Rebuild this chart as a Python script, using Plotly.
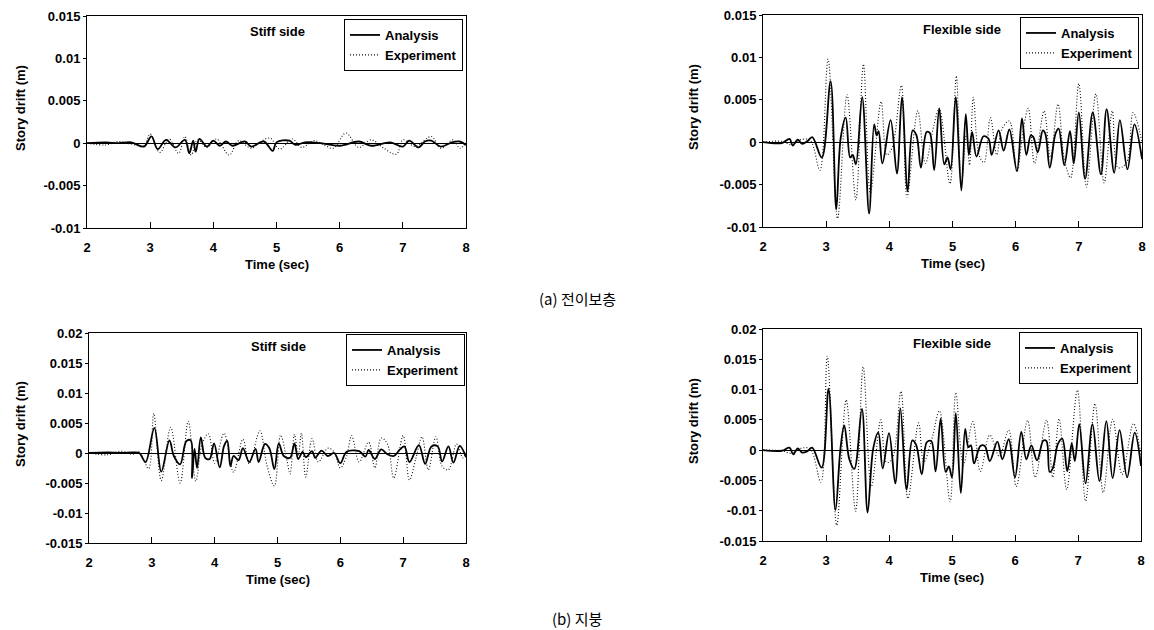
import plotly.graph_objects as go

# ---------------- DATA ----------------
x_ticks = [2, 3, 4, 5, 6, 7, 8]
x_tick_labels = ["2", "3", "4", "5", "6", "7", "8"]
y_ticks_a = [-0.01, -0.005, 0, 0.005, 0.01, 0.015]
y_tick_labels_a = ["-0.01", "-0.005", "0", "0.005", "0.01", "0.015"]
y_ticks_b = [-0.015, -0.01, -0.005, 0, 0.005, 0.01, 0.015, 0.02]
y_tick_labels_b = ["-0.015", "-0.01", "-0.005", "0", "0.005", "0.01", "0.015", "0.02"]

# (a) transfer floor - stiff side
a_stiff_t_ana = [2.0, 2.3, 2.5, 2.7, 2.9, 3.02, 3.12, 3.25, 3.4, 3.55, 3.62, 3.68, 3.72, 3.78, 3.9, 4.0,
                 4.1, 4.2, 4.3, 4.5, 4.6, 4.8, 4.94, 5.0, 5.2, 5.3, 5.45, 5.7, 6.0, 6.3, 6.5, 6.8,
                 7.0, 7.1, 7.25, 7.35, 7.45, 7.6, 7.78, 7.9, 8.0]
a_stiff_v_ana = [0.0, 0.0001, 0.0, 0.0001, -0.0004, 0.0008, -0.0007, 0.0004, -0.0005, 0.0004, -0.0012, 0.0003,
                 -0.001, 0.0005, -0.0004, 0.0003, -0.0003, 0.0002, -0.0003, 0.0002, -0.0004, 0.0002,
                 -0.0009, 0.0001, 0.0003, -0.0002, 0.0001, 0.0, -0.0003, 0.0002, -0.0003, 0.0001,
                 -0.0004, 0.0003, -0.0005, 0.0002, 0.0003, -0.0004, 0.0001, 0.0002, -0.0002]
a_stiff_t_exp = [2.0, 2.3, 2.5, 2.7, 2.9, 3.0, 3.15, 3.3, 3.45, 3.55, 3.65, 3.75, 3.9, 4.05, 4.25, 4.4,
                 4.6, 4.75, 4.9, 5.05, 5.25, 5.4, 5.6, 5.75, 5.9, 6.1, 6.3, 6.5, 6.7, 6.9, 7.0, 7.2,
                 7.45, 7.6, 7.8, 7.9, 8.0]
a_stiff_v_exp = [0.0, -0.0002, 0.0002, -0.0001, -0.0003, 0.0011, -0.0011, 0.0005, -0.0012, 0.0008, -0.0014,
                 0.0004, -0.0005, 0.0005, -0.0014, 0.0003, -0.0006, 0.0002, 0.0006, -0.0007, 0.0005,
                 -0.0005, 0.0003, -0.0002, -0.0006, 0.0012, -0.0005, 0.0004, -0.0006, -0.0013, 0.0004,
                 -0.0004, 0.0008, -0.0006, 0.0004, -0.0006, 0.0]

# (a) transfer floor - flexible side
a_flex_t_ana = [2.0, 2.3, 2.42, 2.47, 2.55, 2.62, 2.7, 2.78, 2.93, 3.07, 3.16, 3.23, 3.31, 3.38, 3.42, 3.47,
                3.57, 3.68, 3.76, 3.8, 3.83, 3.89, 4.02, 4.12, 4.2, 4.29, 4.37, 4.43, 4.5, 4.59, 4.64,
                4.71, 4.79, 4.87, 4.92, 4.97, 5.05, 5.14, 5.21, 5.26, 5.31, 5.38, 5.49, 5.57, 5.62,
                5.73, 5.81, 5.9, 6.02, 6.1, 6.17, 6.24, 6.28, 6.35, 6.43, 6.47, 6.54, 6.63, 6.68, 6.77,
                6.86, 6.92, 7.0, 7.1, 7.22, 7.35, 7.44, 7.56, 7.65, 7.77, 7.88, 8.0]
a_flex_v_ana = [0.0, -0.0001, 0.0004, -0.0004, 0.0003, -0.0002, 0.0001, 0.0006, -0.0018, 0.0072, -0.0079,
                0.0005, 0.0029, -0.0018, -0.0015, -0.0026, 0.0053, -0.0084, 0.0021, 0.0008, 0.0013,
                -0.0025, 0.0026, -0.0037, 0.0053, -0.0058, 0.0014, 0.0008, -0.003, 0.0012, 0.0011,
                -0.0033, 0.004, -0.0026, -0.0018, -0.0032, 0.0053, -0.0057, 0.0033, -0.0015, 0.0012,
                -0.0017, 0.0007, 0.0004, -0.0015, 0.0014, -0.001, 0.0015, -0.0034, 0.0028, -0.0015,
                0.0008, 0.0006, -0.0012, 0.0014, 0.001, -0.003, 0.001, 0.0016, -0.0027, 0.0013, -0.0025,
                0.0035, -0.0043, 0.0035, -0.0038, 0.0039, -0.0036, 0.0026, -0.0032, 0.0021, -0.002]
a_flex_t_exp = [2.0, 2.3, 2.45, 2.6, 2.75, 2.9, 3.03, 3.18, 3.33, 3.47, 3.59, 3.7, 3.87, 3.96, 4.05, 4.19,
                4.28, 4.45, 4.57, 4.7, 4.79, 4.96, 5.06, 5.14, 5.22, 5.27, 5.33, 5.42, 5.5, 5.6, 5.7,
                5.78, 5.9, 6.02, 6.12, 6.2, 6.3, 6.45, 6.55, 6.67, 6.77, 6.87, 7.0, 7.12, 7.27, 7.4,
                7.53, 7.62, 7.75, 7.86, 8.0]
a_flex_v_exp = [0.0, 0.0001, -0.0003, 0.0003, 0.0002, -0.0033, 0.0098, -0.009, 0.0056, -0.0068, 0.0092,
                -0.006, 0.0048, -0.0015, -0.0005, 0.0067, -0.0065, 0.0037, -0.0025, 0.0018, 0.004,
                -0.0049, 0.0078, -0.005, 0.001, -0.0027, 0.0053, -0.0015, -0.0024, 0.0029, -0.0015,
                0.0015, 0.0025, -0.0035, 0.0015, 0.004, -0.0025, 0.0037, -0.0018, 0.0045, -0.002,
                -0.0042, 0.0069, -0.0053, 0.0057, -0.0048, 0.0037, -0.003, -0.0025, 0.0035, 0.0]

# (b) roof - stiff side
b_stiff_t_ana = [2.0, 2.3, 2.5, 2.7, 2.8, 2.9, 3.04, 3.15, 3.28, 3.35, 3.45, 3.55, 3.62, 3.64, 3.68, 3.72,
                 3.78, 3.85, 3.92, 3.99, 4.08, 4.15, 4.2, 4.25, 4.3, 4.38, 4.45, 4.55, 4.65, 4.7, 4.8,
                 4.87, 4.95, 5.02, 5.1, 5.2, 5.27, 5.33, 5.4, 5.45, 5.55, 5.6, 5.7, 5.8, 5.9, 6.0, 6.1,
                 6.3, 6.4, 6.45, 6.55, 6.65, 6.75, 6.85, 6.95, 7.02, 7.1, 7.25, 7.35, 7.45, 7.55, 7.62,
                 7.72, 7.8, 7.9, 8.0]
b_stiff_v_ana = [0.0, 0.0001, 0.0, 0.0001, 0.0, -0.0015, 0.0042, -0.0031, 0.0021, -0.0005, -0.0019, 0.002,
                 0.0021, -0.0042, 0.0007, -0.0025, 0.0026, -0.0008, -0.001, 0.0016, -0.0024, 0.0012,
                 0.002, -0.0022, -0.0005, -0.0012, 0.0008, -0.0015, 0.0007, -0.0015, 0.0015, 0.0008,
                 -0.0027, 0.0016, -0.0005, -0.0008, 0.0016, -0.001, 0.0002, -0.0007, 0.0003, -0.0008,
                 0.0004, -0.0005, 0.0, -0.0017, 0.0002, 0.0003, -0.0006, 0.0005, -0.001, 0.0006, -0.0002,
                 -0.0005, 0.0006, 0.0011, -0.0015, 0.0013, -0.0018, 0.0011, 0.0011, -0.0014, 0.0011,
                 -0.0016, 0.0012, -0.0007]
b_stiff_t_exp = [2.0, 2.3, 2.5, 2.7, 2.8, 2.95, 3.03, 3.15, 3.3, 3.45, 3.58, 3.7, 3.8, 3.9, 4.0, 4.15,
                 4.3, 4.45, 4.55, 4.72, 4.83, 4.95, 5.05, 5.15, 5.2, 5.27, 5.33, 5.38, 5.45, 5.55, 5.65,
                 5.8, 5.9, 6.0, 6.1, 6.18, 6.3, 6.45, 6.55, 6.65, 6.75, 6.85, 7.0, 7.1, 7.2, 7.3, 7.4,
                 7.52, 7.62, 7.72, 7.85, 7.95, 8.0]
b_stiff_v_exp = [0.0, -0.0003, 0.0003, -0.0002, 0.0002, -0.0026, 0.0066, -0.0046, 0.0043, -0.005, 0.0053,
                 -0.0047, 0.0015, 0.0032, -0.0017, 0.0033, -0.0032, 0.0023, -0.0018, 0.0037, -0.002,
                 -0.0055, 0.003, -0.0012, -0.0035, 0.0031, -0.0005, 0.0033, -0.004, 0.0024, -0.0015,
                 0.0008, 0.0002, -0.0025, -0.0005, 0.0029, -0.0015, 0.0018, -0.0025, 0.0025, 0.0015,
                 -0.0042, 0.0029, -0.0045, -0.001, 0.0027, -0.0028, 0.0027, -0.0022, -0.0028, 0.0015,
                 -0.0008, 0.0]

# (b) roof - flexible side
b_flex_t_ana = [2.0, 2.3, 2.42, 2.48, 2.55, 2.62, 2.7, 2.78, 2.93, 3.04, 3.15, 3.23, 3.29, 3.37, 3.45,
                3.57, 3.66, 3.75, 3.83, 3.9, 4.0, 4.1, 4.18, 4.28, 4.37, 4.43, 4.52, 4.6, 4.67, 4.74,
                4.82, 4.9, 4.95, 5.0, 5.06, 5.14, 5.21, 5.26, 5.3, 5.35, 5.45, 5.52, 5.6, 5.72, 5.8,
                5.9, 6.0, 6.1, 6.18, 6.26, 6.35, 6.45, 6.5, 6.55, 6.6, 6.68, 6.75, 6.83, 6.9, 6.95,
                7.02, 7.12, 7.23, 7.34, 7.45, 7.55, 7.66, 7.78, 7.9, 8.0]
b_flex_v_ana = [0.0, -0.0001, 0.0004, -0.0007, 0.0003, -0.0004, -0.0002, 0.0004, -0.0029, 0.0101, -0.0099,
                0.0003, 0.0041, -0.0015, -0.0031, 0.0068, -0.0103, 0.0003, 0.0029, -0.003, 0.0028,
                -0.0055, 0.0069, -0.0065, 0.0016, 0.0009, -0.004, 0.0013, 0.0015, -0.0035, 0.0052,
                -0.0036, -0.0027, -0.0045, 0.0061, -0.0071, 0.0035, 0.0005, 0.0008, -0.0022, 0.0007,
                0.0007, -0.0018, 0.0014, -0.0015, 0.0018, -0.0045, 0.003, -0.0015, 0.0008, -0.0017,
                0.0016, 0.0015, -0.0036, -0.003, 0.001, 0.0019, -0.0035, 0.0011, -0.0018, 0.0043,
                -0.0055, 0.0043, -0.0051, 0.0048, -0.0046, 0.0033, -0.0045, 0.0029, -0.0026]
b_flex_t_exp = [2.0, 2.3, 2.45, 2.6, 2.75, 2.92, 3.02, 3.17, 3.32, 3.47, 3.59, 3.72, 3.87, 3.96, 4.05,
                4.19, 4.3, 4.47, 4.55, 4.68, 4.8, 4.97, 5.06, 5.18, 5.33, 5.45, 5.6, 5.75, 5.9, 6.02,
                6.2, 6.32, 6.5, 6.6, 6.7, 6.82, 6.99, 7.12, 7.27, 7.4, 7.55, 7.7, 7.88, 8.0]
b_flex_v_exp = [0.0, -0.0001, -0.0005, 0.0003, 0.0002, -0.0053, 0.0155, -0.0124, 0.0083, -0.0101, 0.0138,
                -0.006, 0.005, -0.002, -0.0015, 0.0097, -0.008, 0.0045, -0.002, 0.0018, 0.0065, -0.0085,
                0.0095, -0.0025, 0.0047, -0.0035, 0.0025, -0.001, 0.0033, -0.006, 0.0049, -0.0045,
                0.005, -0.0045, 0.0052, -0.0065, 0.0099, -0.0084, 0.0077, -0.007, 0.0051, -0.004,
                0.0044, -0.001]

panel_titles = ["Stiff side", "Flexible side", "Stiff side", "Flexible side"]
captions = ["(a) 전이보층", "(b) 지붕"]
series_names = ["Analysis", "Experiment"]
x_title = "Time (sec)"
y_title = "Story drift (m)"

# ---------------- LAYOUT ----------------
W, H = 1154, 630
FONT = "Liberation Sans, Arial, sans-serif"


def px_x(p):
    return p / W


def px_y(p):
    return 1 - p / H


def bold(labels):
    return [f"<b>{s}</b>" for s in labels]


panels = [
    dict(t1=a_stiff_t_ana, v1=a_stiff_v_ana, t2=a_stiff_t_exp, v2=a_stiff_v_exp,
         xd=(87, 466), yd=(16, 228), yr=(-0.01, 0.015), yt=y_ticks_a, ytl=y_tick_labels_a,
         title_xy=(277, 31), leg=(463, 19), ytitle_x=20),
    dict(t1=a_flex_t_ana, v1=a_flex_v_ana, t2=a_flex_t_exp, v2=a_flex_v_exp,
         xd=(763, 1142), yd=(15, 227), yr=(-0.01, 0.015), yt=y_ticks_a, ytl=y_tick_labels_a,
         title_xy=(962, 29), leg=(1139, 17), ytitle_x=693),
    dict(t1=b_stiff_t_ana, v1=b_stiff_v_ana, t2=b_stiff_t_exp, v2=b_stiff_v_exp,
         xd=(89, 466), yd=(333, 543), yr=(-0.015, 0.02), yt=y_ticks_b, ytl=y_tick_labels_b,
         title_xy=(278, 346), leg=(465, 334), ytitle_x=20),
    dict(t1=b_flex_t_ana, v1=b_flex_v_ana, t2=b_flex_t_exp, v2=b_flex_v_exp,
         xd=(763, 1141), yd=(329, 541), yr=(-0.015, 0.02), yt=y_ticks_b, ytl=y_tick_labels_b,
         title_xy=(952, 344), leg=(1138, 332), ytitle_x=693),
]

fig = go.Figure()
annotations = []
layout_extra = {}

for i, p in enumerate(panels):
    n = i + 1
    xa = "x" if n == 1 else f"x{n}"
    ya = "y" if n == 1 else f"y{n}"
    lg = "legend" if n == 1 else f"legend{n}"
    fig.add_trace(go.Scatter(x=p["t1"], y=p["v1"], mode="lines", name=series_names[0],
                             line=dict(color="black", width=1.8, shape="spline", smoothing=1.0),
                             xaxis=xa, yaxis=ya, legend=lg))
    fig.add_trace(go.Scatter(x=p["t2"], y=p["v2"], mode="lines", name=series_names[1],
                             line=dict(color="#111111", width=1.1, dash="1px,2px", shape="spline", smoothing=1.0),
                             xaxis=xa, yaxis=ya, legend=lg))
    xkey = "xaxis" if n == 1 else f"xaxis{n}"
    ykey = "yaxis" if n == 1 else f"yaxis{n}"
    layout_extra[xkey] = dict(
        domain=[px_x(p["xd"][0]), px_x(p["xd"][1])], anchor=ya, range=[2, 8],
        tickvals=x_ticks, ticktext=bold(x_tick_labels), ticks="inside", ticklen=6, tickcolor="black",
        showline=True, linecolor="black", linewidth=1, mirror=True, showgrid=False, zeroline=False,
        tickfont=dict(family=FONT, size=13, color="black"), automargin=False, ticklabelstandoff=7,
    )
    layout_extra[ykey] = dict(
        domain=[px_y(p["yd"][1]), px_y(p["yd"][0])], anchor=xa, range=list(p["yr"]),
        tickvals=p["yt"], ticktext=bold(p["ytl"]), ticks="outside", ticklen=3, tickcolor="black",
        showline=True, linecolor="black", linewidth=1, mirror=True, showgrid=False,
        zeroline=True, zerolinecolor="black", zerolinewidth=1,
        tickfont=dict(family=FONT, size=13, color="black"), automargin=False,
    )
    layout_extra[lg] = dict(
        x=px_x(p["leg"][0]), y=px_y(p["leg"][1]), xref="paper", yref="paper",
        xanchor="right", yanchor="top", bgcolor="white", bordercolor="black", borderwidth=1,
        font=dict(family=FONT, size=13, color="black", weight="bold"),
        itemwidth=30, tracegroupgap=0,
    )
    annotations.append(dict(text=f"<b>{panel_titles[i]}</b>", x=px_x(p["title_xy"][0]), y=px_y(p["title_xy"][1]),
                            xref="paper", yref="paper", showarrow=False, xanchor="center", yanchor="middle",
                            font=dict(family=FONT, size=13, color="black")))
    cx = (p["xd"][0] + p["xd"][1]) / 2
    annotations.append(dict(text=f"<b>{x_title}</b>", x=px_x(cx), y=px_y(p["yd"][1] + 36),
                            xref="paper", yref="paper", showarrow=False, xanchor="center", yanchor="middle",
                            font=dict(family=FONT, size=13, color="black")))
    cy = (p["yd"][0] + p["yd"][1]) / 2 - 14
    annotations.append(dict(text=f"<b>{y_title}</b>", x=px_x(p["ytitle_x"]), y=px_y(cy), textangle=-90,
                            xref="paper", yref="paper", showarrow=False, xanchor="center", yanchor="middle",
                            font=dict(family=FONT, size=13, color="black")))

annotations.append(dict(text=captions[0], x=0.5, y=px_y(298), xref="paper", yref="paper", showarrow=False,
                        xanchor="center", yanchor="middle",
                        font=dict(family="Noto Sans CJK KR, Noto Sans, sans-serif", size=15, color="black")))
annotations.append(dict(text=captions[1], x=0.5, y=px_y(618), xref="paper", yref="paper", showarrow=False,
                        xanchor="center", yanchor="middle",
                        font=dict(family="Noto Sans CJK KR, Noto Sans, sans-serif", size=15, color="black")))

fig.update_layout(
    template="simple_white",
    width=W, height=H, margin=dict(l=0, r=0, t=0, b=0, pad=0, autoexpand=False),
    paper_bgcolor="white", plot_bgcolor="white",
    annotations=annotations, showlegend=True,
    **layout_extra,
)

fig.write_html("out.html", config={"displayModeBar": False},
               post_script="document.body.style.margin='0px';")
